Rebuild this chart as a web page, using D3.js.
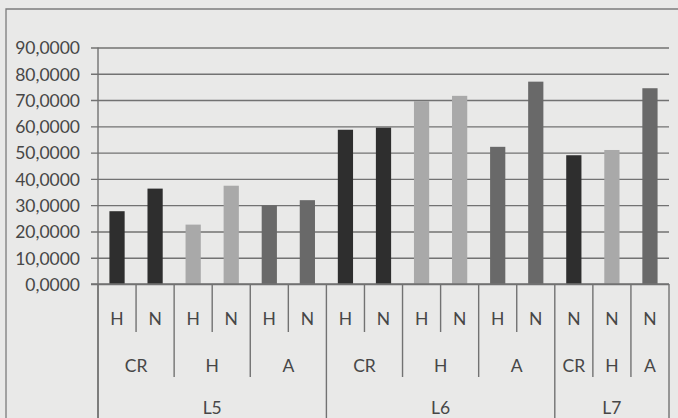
<!DOCTYPE html>
<html>
<head>
<meta charset="utf-8">
<script src="https://cdn.jsdelivr.net/npm/d3@7/dist/d3.min.js"></script>
<style>
  html, body { margin: 0; padding: 0; background: #e9e9e8; }
  svg { display: block; }
  text { font-family: Lato, "Open Sans", sans-serif; fill: #474747; }
</style>
</head>
<body>
<svg id="chart" width="678" height="418"></svg>
<script>
// Three-level category axis: sample (L5/L6/L7), group (CR/H/A), sub-type (H/N)
const level1 = ["H", "N", "H", "N", "H", "N", "H", "N", "H", "N", "H", "N", "N", "N", "N"];
const level2 = ["CR", "CR", "H", "H", "A", "A", "CR", "CR", "H", "H", "A", "A", "CR", "H", "A"];
const level3 = ["L5", "L5", "L5", "L5", "L5", "L5", "L6", "L6", "L6", "L6", "L6", "L6", "L7", "L7", "L7"];
const values = [27.7, 36.3, 22.6, 37.4, 29.9, 31.9, 58.7, 59.5, 69.6, 71.6, 52.2, 77.0, 49.0, 51.0, 74.5];
const yTicks = [0, 10, 20, 30, 40, 50, 60, 70, 80, 90];
const groupColors = { CR: "#2e2e2e", H: "#a9a9a9", A: "#696969" };

const svg = d3.select("#chart");
const lineColor = "#727272";

const x = d3.scaleBand().domain(d3.range(values.length)).range([98, 669]).padding(0);
const y = d3.scaleLinear().domain([0, 90]).range([284, 47.5]);

const locale = d3.formatLocale({ decimal: ",", thousands: ".", grouping: [3], currency: ["", ""] });
const fmt = locale.format(".4f");

// outer chart frame
svg.append("path")
  .attr("d", "M6,418 L6,9 L678,9")
  .attr("fill", "none").attr("stroke", "#7c7c7c").attr("stroke-width", 1.3);

// value axis with gridlines
const yAxis = d3.axisLeft(y).tickValues(yTicks).tickFormat(fmt)
  .tickSize(-(x.range()[1] - x.range()[0])).tickPadding(11);
const gy = svg.append("g").attr("transform", "translate(98,0)").call(yAxis);
gy.select(".domain").remove();
gy.selectAll(".tick line")
  .attr("x1", -7)
  .attr("stroke", lineColor).attr("stroke-width", 1.4);
gy.selectAll(".tick text")
  .attr("font-size", 17.5).attr("dy", "0.36em").attr("x", -18);

// vertical axis line
svg.append("line")
  .attr("x1", 98).attr("x2", 98).attr("y1", 47.5).attr("y2", 418)
  .attr("stroke", lineColor).attr("stroke-width", 1.4);

// bars
const barW = x.bandwidth() * 0.4;
svg.append("g").selectAll("rect").data(values).join("rect")
  .attr("x", (d, i) => x(i) + (x.bandwidth() - barW) / 2)
  .attr("width", barW)
  .attr("y", d => y(d))
  .attr("height", d => y(0) - y(d))
  .attr("fill", (d, i) => groupColors[level2[i]]);

// category axis: dividers whose length depends on the level that changes
const axisG = svg.append("g");
const edges = d3.range(values.length + 1);
edges.forEach(k => {
  const xp = k < values.length ? x(k) : x.range()[1];
  let y2;
  if (k === 0 || k === values.length || level3[k] !== level3[k - 1]) y2 = 418;
  else if (level2[k] !== level2[k - 1]) y2 = 377;
  else y2 = 332;
  axisG.append("line")
    .attr("x1", xp).attr("x2", xp).attr("y1", 284).attr("y2", y2)
    .attr("stroke", lineColor).attr("stroke-width", 1.4);
});

// level 1 labels
axisG.selectAll("text.l1").data(level1).join("text")
  .attr("class", "l1")
  .attr("x", (d, i) => x(i) + x.bandwidth() / 2)
  .attr("y", 325)
  .attr("text-anchor", "middle").attr("font-size", 17.5)
  .text(d => d);

// runs of identical consecutive keys for the outer levels
function runs(keys, parentKeys) {
  const out = [];
  keys.forEach((k, i) => {
    const last = out[out.length - 1];
    if (last && last.key === k && (!parentKeys || parentKeys[i] === parentKeys[last.start])) last.end = i;
    else out.push({ key: k, start: i, end: i });
  });
  return out;
}
const mid = (r) => (x(r.start) + x(r.end) + x.bandwidth()) / 2;

axisG.selectAll("text.l2").data(runs(level2, level3)).join("text")
  .attr("class", "l2")
  .attr("x", mid).attr("y", 372)
  .attr("text-anchor", "middle").attr("font-size", 17.5)
  .text(d => d.key);

axisG.selectAll("text.l3").data(runs(level3)).join("text")
  .attr("class", "l3")
  .attr("x", mid).attr("y", 414)
  .attr("text-anchor", "middle").attr("font-size", 17.5)
  .text(d => d.key);

// baseline
svg.append("line")
  .attr("x1", 91).attr("x2", x.range()[1]).attr("y1", y(0)).attr("y2", y(0))
  .attr("stroke", lineColor).attr("stroke-width", 1.4);
</script>
</body>
</html>
